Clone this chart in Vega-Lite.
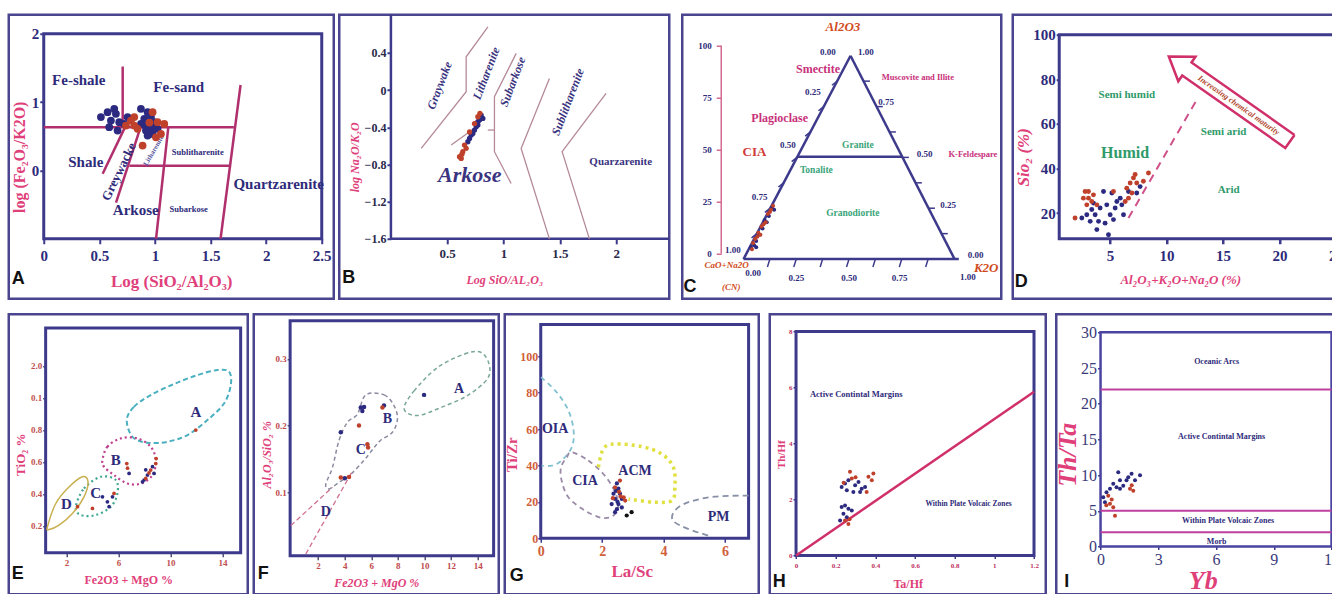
{
"padding": {"left": 6.75, "top": 11.75, "right": 0, "bottom": 0},
"background": "white",
"spacing": 11.5,
"config": {
  "view": {"stroke": null},
  "axis": {"grid": false, "domain": false, "labelFont": "Liberation Serif", "titleFont": "Liberation Serif", "labelFontWeight": "bold", "titleFontWeight": "bold", "labelFlush": false, "labelOverlap": false, "tickColor": "#3d3a8c", "tickWidth": 1.5, "tickSize": 4, "labelColor": "#2e2b7a", "titleColor": "#e0407a"},
  "text": {"font": "Liberation Serif"}
},
"vconcat": [
{"spacing": 8.5, "hconcat": [
{"spacing": 1.5, "hconcat": [
{"width": 325, "height": 284, "view": {"stroke": "#4b4590", "strokeWidth": 2.5},
 "layer": [
  {"data": {"values": [{"x": 0, "x2": 2.5, "y": -1, "y2": 2}]},
   "mark": {"type": "rect", "fill": null, "stroke": "#3d3a8c", "strokeWidth": 3},
   "encoding": {
     "x": {"field": "x", "type": "quantitative", "scale": {"domain": [-0.3147, 2.608], "nice": false, "zero": false}, "axis": {"offset": -60, "values": [0, 0.5, 1, 1.5, 2, 2.5], "format": "~r", "title": "Log (SiO₂/Al₂O₃)", "labelFontSize": 15, "tickSize": 5, "tickWidth": 2, "labelPadding": 5, "titleFontSize": 17, "titlePadding": 10}},
     "x2": {"field": "x2"},
     "y": {"field": "y", "type": "quantitative", "scale": {"domain": [-1.878, 2.278], "nice": false, "zero": false}, "axis": {"offset": -35, "values": [0, 1, 2], "format": "~r", "title": "log (Fe₂O₃/K2O)", "labelFontSize": 15, "tickSize": 4, "tickWidth": 2, "labelPadding": 1, "titleFontSize": 16, "titlePadding": 4}},
     "y2": {"field": "y2"}}},
  {"data": {"values": [{"x": 0.71, "y": 1.52, "x2": 0.71, "y2": 0.63}, {"x": 0, "y": 0.63, "x2": 1.71, "y2": 0.63}, {"x": 1.77, "y": 1.25, "x2": 1.59, "y2": -1}, {"x": 1.12, "y": 0.63, "x2": 1.01, "y2": -1}, {"x": 0.77, "y": 0.07, "x2": 1.67, "y2": 0.07}, {"x": 0.53, "y": -0.05, "x2": 0.73, "y2": 0.63}, {"x": 0.65, "y": -0.47, "x2": 0.87, "y2": 0.63}]},
   "mark": {"type": "rule", "color": "#b0306e", "strokeWidth": 2.5},
   "encoding": {"x": {"field": "x", "type": "quantitative"}, "y": {"field": "y", "type": "quantitative"}, "x2": {"field": "x2"}, "y2": {"field": "y2"}}},
  {"data": {"values": [{"x": 0.315, "y": 1.327, "t": "Fe-shale"}, {"x": 1.214, "y": 1.224, "t": "Fe-sand"}, {"x": 0.378, "y": 0.127, "t": "Shale"}, {"x": 0.827, "y": -0.576, "t": "Arkose"}, {"x": 2.113, "y": -0.195, "t": "Quartzarenite"}]},
   "mark": {"type": "text", "fontWeight": "bold", "fontSize": 15, "color": "#2e2b7a"},
   "encoding": {"x": {"field": "x", "type": "quantitative"}, "y": {"field": "y", "type": "quantitative"}, "text": {"field": "t"}}},
  {"data": {"values": [{"x": 1.304, "y": -0.561, "t": "Subarkose"}, {"x": 1.385, "y": 0.273, "t": "Sublitharenite"}]},
   "mark": {"type": "text", "fontWeight": "bold", "fontSize": 8.5, "color": "#2e2b7a"},
   "encoding": {"x": {"field": "x", "type": "quantitative"}, "y": {"field": "y", "type": "quantitative"}, "text": {"field": "t"}}},
  {"data": {"values": [{"x": 0.677, "y": -0.02, "t": "Greywacke"}]},
   "mark": {"type": "text", "fontWeight": "bold", "fontSize": 13, "angle": 296, "color": "#2e2b7a"},
   "encoding": {"x": {"field": "x", "type": "quantitative"}, "y": {"field": "y", "type": "quantitative"}, "text": {"field": "t"}}},
  {"data": {"values": [{"x": 0.989, "y": 0.29, "t": "Litharenite"}]},
   "mark": {"type": "text", "fontWeight": "bold", "fontSize": 7, "angle": 300, "color": "#5a5aa0"},
   "encoding": {"x": {"field": "x", "type": "quantitative"}, "y": {"field": "y", "type": "quantitative"}, "text": {"field": "t"}}},
  {"data": {"values": [
    {"x": 0.514, "y": 0.78, "s": "n"}, {"x": 0.574, "y": 0.853, "s": "n"}, {"x": 0.634, "y": 0.902, "s": "n"}, {"x": 0.649, "y": 0.828, "s": "n"}, {"x": 0.589, "y": 0.632, "s": "n"}, {"x": 0.664, "y": 0.583, "s": "n"}, {"x": 0.679, "y": 0.706, "s": "n"}, {"x": 0.604, "y": 0.73, "s": "n"}, {"x": 0.754, "y": 0.78, "s": "n"}, {"x": 0.724, "y": 0.681, "s": "n"}, {"x": 0.874, "y": 0.902, "s": "n"}, {"x": 0.934, "y": 0.853, "s": "n"}, {"x": 0.904, "y": 0.755, "s": "n"}, {"x": 0.964, "y": 0.78, "s": "n"}, {"x": 0.949, "y": 0.657, "s": "n"}, {"x": 0.994, "y": 0.706, "s": "n"}, {"x": 0.919, "y": 0.583, "s": "n"}, {"x": 0.874, "y": 0.681, "s": "n"}, {"x": 1.024, "y": 0.608, "s": "n"}, {"x": 0.979, "y": 0.534, "s": "n"}, {"x": 0.934, "y": 0.51, "s": "n"}, {"x": 0.96, "y": 0.62, "s": "n"}, {"x": 0.91, "y": 0.66, "s": "n"}, {"x": 1.0, "y": 0.64, "s": "n"},
    {"x": 0.784, "y": 0.73, "s": "r"}, {"x": 0.739, "y": 0.657, "s": "r"}, {"x": 0.814, "y": 0.78, "s": "r"}, {"x": 0.844, "y": 0.608, "s": "r"}, {"x": 1.024, "y": 0.706, "s": "r"}, {"x": 1.084, "y": 0.681, "s": "r"}, {"x": 1.054, "y": 0.534, "s": "r"}, {"x": 0.889, "y": 0.363, "s": "r"}, {"x": 1.009, "y": 0.485, "s": "r"}, {"x": 0.814, "y": 0.657, "s": "r"}, {"x": 0.979, "y": 0.853, "s": "r"}, {"x": 0.95, "y": 0.7, "s": "r"}]},
   "mark": {"type": "circle", "size": 60, "opacity": 1},
   "encoding": {"x": {"field": "x", "type": "quantitative"}, "y": {"field": "y", "type": "quantitative"}, "color": {"field": "s", "type": "nominal", "scale": {"domain": ["n", "r", "k"], "range": ["#2c2a80", "#c0412b", "#111111"]}, "legend": null}}},
  {"data": {"values": [{"x": -0.288, "y": -1.585, "t": "A"}]},
   "mark": {"type": "text", "font": "Liberation Sans", "fontWeight": "bold", "fontSize": 18, "color": "#111111", "align": "left"},
   "encoding": {"x": {"field": "x", "type": "quantitative"}, "y": {"field": "y", "type": "quantitative"}, "text": {"field": "t"}}}
 ]},
{"width": 330, "height": 284, "view": {"stroke": "#4b4590", "strokeWidth": 2.5},
 "layer": [
  {"data": {"values": [{"x": 0, "y": -1.6, "x2": 2.4708, "y2": -1.6}, {"x": 0, "y": -1.6, "x2": 0, "y2": 0.8097}]},
   "mark": {"type": "rule", "color": "#3d3a8c", "strokeWidth": 2.5},
   "encoding": {
     "x": {"field": "x", "type": "quantitative", "scale": {"domain": [-0.4587, 2.4708], "nice": false, "zero": false}, "axis": {"offset": -59.9, "values": [0.5, 1, 1.5, 2], "format": "~r", "tickSize": 5, "tickWidth": 2, "labelFontSize": 13, "labelPadding": 4, "labelColor": "#2a2a4a", "title": "Log SiO/AL₂O₃", "titleFontStyle": "italic", "titleFontSize": 12, "titlePadding": 14}},
     "x2": {"field": "x2"},
     "y": {"field": "y", "type": "quantitative", "scale": {"domain": [-2.244, 0.8097], "nice": false, "zero": false}, "axis": {"offset": -51.7, "values": [-1.6, -1.2, -0.8, -0.4, 0, 0.4], "format": "~r", "tickSize": 4, "tickWidth": 2, "labelFontSize": 12, "labelPadding": 1, "labelColor": "#2a2a4a", "title": "log Na₂O/K₂O", "titleFontStyle": "italic", "titleFontSize": 12, "titlePadding": 3}},
     "y2": {"field": "y2"}}},
  {"data": {"values": [{"g": 1, "o": 0, "x": 0.269, "y": -0.628}, {"g": 1, "o": 1, "x": 0.668, "y": -0.018}, {"g": 1, "o": 2, "x": 0.668, "y": 0.358}, {"g": 1, "o": 3, "x": 0.861, "y": 0.68},
    {"g": 2, "o": 0, "x": 1.112, "y": 0.394}, {"g": 2, "o": 1, "x": 0.919, "y": -0.072}, {"g": 2, "o": 2, "x": 0.919, "y": -0.663}, {"g": 2, "o": 3, "x": 1.067, "y": -1.004},
    {"g": 3, "o": 0, "x": 0.86, "y": -0.43}, {"g": 3, "o": 1, "x": 0.92, "y": -0.43},
    {"g": 4, "o": 0, "x": 0.535, "y": -0.59}, {"g": 4, "o": 1, "x": 0.742, "y": -0.41},
    {"g": 5, "o": 0, "x": 1.407, "y": 0.125}, {"g": 5, "o": 1, "x": 1.156, "y": -0.628}, {"g": 5, "o": 2, "x": 1.407, "y": -1.6},
    {"g": 6, "o": 0, "x": 1.91, "y": -0.036}, {"g": 6, "o": 1, "x": 1.52, "y": -0.663}, {"g": 6, "o": 2, "x": 1.762, "y": -1.6}]},
   "mark": {"type": "line", "color": "#b58a98", "strokeWidth": 1.3},
   "encoding": {"x": {"field": "x", "type": "quantitative"}, "y": {"field": "y", "type": "quantitative"}, "detail": {"field": "g", "type": "nominal"}, "order": {"field": "o", "type": "quantitative"}}},
  {"data": {"values": [{"x": 0.43, "y": 0.05, "t": "Graywake"}, {"x": 0.846, "y": 0.18, "t": "Litharenite"}, {"x": 1.08, "y": 0.09, "t": "Subarkose"}, {"x": 1.57, "y": -0.126, "t": "Sublitharenite"}]},
   "mark": {"type": "text", "fontWeight": "bold", "fontStyle": "italic", "fontSize": 12, "angle": 291, "color": "#3a3480"},
   "encoding": {"x": {"field": "x", "type": "quantitative"}, "y": {"field": "y", "type": "quantitative"}, "text": {"field": "t"}}},
  {"data": {"values": [{"x": 2.04, "y": -0.77, "t": "Quarzarenite"}]},
   "mark": {"type": "text", "fontWeight": "bold", "fontSize": 11, "color": "#3a3480"},
   "encoding": {"x": {"field": "x", "type": "quantitative"}, "y": {"field": "y", "type": "quantitative"}, "text": {"field": "t"}}},
  {"data": {"values": [{"x": 0.7, "y": -0.91, "t": "Arkose"}]},
   "mark": {"type": "text", "fontWeight": "bold", "fontStyle": "italic", "fontSize": 22, "color": "#3a3480"},
   "encoding": {"x": {"field": "x", "type": "quantitative"}, "y": {"field": "y", "type": "quantitative"}, "text": {"field": "t"}}},
  {"data": {"values": [
    {"x": 0.801, "y": -0.269, "s": "n"}, {"x": 0.786, "y": -0.323, "s": "n"}, {"x": 0.772, "y": -0.376, "s": "n"}, {"x": 0.757, "y": -0.394, "s": "n"}, {"x": 0.742, "y": -0.43, "s": "n"}, {"x": 0.713, "y": -0.484, "s": "n"}, {"x": 0.683, "y": -0.556, "s": "n"}, {"x": 0.816, "y": -0.305, "s": "n"}, {"x": 0.772, "y": -0.34, "s": "n"}, {"x": 0.727, "y": -0.466, "s": "n"}, {"x": 0.698, "y": -0.52, "s": "n"},
    {"x": 0.609, "y": -0.717, "s": "r"}, {"x": 0.624, "y": -0.735, "s": "r"}, {"x": 0.638, "y": -0.663, "s": "r"}, {"x": 0.653, "y": -0.592, "s": "r"}, {"x": 0.668, "y": -0.627, "s": "r"}, {"x": 0.742, "y": -0.36, "s": "r"}, {"x": 0.772, "y": -0.287, "s": "r"}, {"x": 0.698, "y": -0.45, "s": "r"}, {"x": 0.79, "y": -0.25, "s": "r"}, {"x": 0.63, "y": -0.69, "s": "r"}]},
   "mark": {"type": "circle", "size": 28, "opacity": 1},
   "encoding": {"x": {"field": "x", "type": "quantitative"}, "y": {"field": "y", "type": "quantitative"}, "color": {"field": "s", "type": "nominal", "scale": {"domain": ["n", "r", "k"], "range": ["#2c2a80", "#c0412b", "#111111"]}, "legend": null}}},
  {"data": {"values": [{"x": -0.432, "y": -2.016, "t": "B"}]},
   "mark": {"type": "text", "font": "Liberation Sans", "fontWeight": "bold", "fontSize": 18, "color": "#111111", "align": "left"},
   "encoding": {"x": {"field": "x", "type": "quantitative"}, "y": {"field": "y", "type": "quantitative"}, "text": {"field": "t"}}}
 ]}
]},
{"spacing": 7.5, "hconcat": [
{"width": 319, "height": 284, "view": {"stroke": "#4b4590", "strokeWidth": 2.5},
 "layer": [
  {"data": {"values": [{"x": -0.1057, "y": 0, "x2": -0.1057, "y2": 100}]},
   "mark": {"type": "rule", "color": "#d46a90", "strokeWidth": 1.5},
   "encoding": {
     "x": {"field": "x", "type": "quantitative", "scale": {"domain": [-0.2905, 1.2213], "nice": false, "zero": false}, "axis": null},
     "x2": {"field": "x2"},
     "y": {"field": "y", "type": "quantitative", "scale": {"domain": [-21.81, 114.93], "nice": false, "zero": false}, "axis": {"offset": -39, "values": [0, 12.5, 25, 37.5, 50, 62.5, 75, 87.5, 100], "labelExpr": "datum.value % 25 == 0 ? format(datum.value, 'd') : ''", "tickColor": "#d46a90", "tickSize": 5, "tickWidth": 1.5, "labelFontSize": 9, "labelPadding": 5, "title": null}},
     "y2": {"field": "y2"}}},
  {"data": {"values": [{"x": 0, "y": -2.7, "x2": 0.507, "y2": 95.2}, {"x": 0.507, "y": 95.2, "x2": 1.0, "y2": -2.7}, {"x": 0, "y": -2.7, "x2": 1.02, "y2": -2.7}, {"x": 0.255, "y": 46.6, "x2": 0.752, "y2": 46.6}]},
   "mark": {"type": "rule", "color": "#3d3a8c", "strokeWidth": 2.5},
   "encoding": {"x": {"field": "x", "type": "quantitative"}, "y": {"field": "y", "type": "quantitative"}, "x2": {"field": "x2"}, "y2": {"field": "y2"}}},
  {"data": {"values": [
    {"x": 0.125, "y": -2.7, "x2": 0.113, "y2": -6.5}, {"x": 0.25, "y": -2.7, "x2": 0.238, "y2": -6.5}, {"x": 0.375, "y": -2.7, "x2": 0.363, "y2": -6.5}, {"x": 0.5, "y": -2.7, "x2": 0.488, "y2": -6.5}, {"x": 0.625, "y": -2.7, "x2": 0.613, "y2": -6.5}, {"x": 0.75, "y": -2.7, "x2": 0.738, "y2": -6.5}, {"x": 0.875, "y": -2.7, "x2": 0.863, "y2": -6.5},
    {"x": 0.0634, "y": 9.54, "x2": 0.038, "y2": 7.5}, {"x": 0.1268, "y": 21.78, "x2": 0.101, "y2": 19.8}, {"x": 0.19, "y": 34.0, "x2": 0.165, "y2": 32.0}, {"x": 0.2535, "y": 46.25, "x2": 0.228, "y2": 44.2}, {"x": 0.317, "y": 58.5, "x2": 0.292, "y2": 56.5}, {"x": 0.38, "y": 70.7, "x2": 0.355, "y2": 68.7}, {"x": 0.444, "y": 82.96, "x2": 0.419, "y2": 81.0},
    {"x": 0.938, "y": 9.54, "x2": 0.968, "y2": 9.54}, {"x": 0.877, "y": 21.78, "x2": 0.907, "y2": 21.78}, {"x": 0.815, "y": 34.0, "x2": 0.845, "y2": 34.0}, {"x": 0.7535, "y": 46.25, "x2": 0.7835, "y2": 46.25}, {"x": 0.692, "y": 58.5, "x2": 0.722, "y2": 58.5}, {"x": 0.63, "y": 70.7, "x2": 0.66, "y2": 70.7}, {"x": 0.569, "y": 82.96, "x2": 0.599, "y2": 82.96}]},
   "mark": {"type": "rule", "color": "#3d3a8c", "strokeWidth": 1.5},
   "encoding": {"x": {"field": "x", "type": "quantitative"}, "y": {"field": "y", "type": "quantitative"}, "x2": {"field": "x2"}, "y2": {"field": "y2"}}},
  {"data": {"values": [{"x": 0.353, "y": 89, "t": "Smectite"}, {"x": 0.171, "y": 65, "t": "Plagioclase"}]},
   "mark": {"type": "text", "fontWeight": "bold", "fontSize": 12, "color": "#c8307a"},
   "encoding": {"x": {"field": "x", "type": "quantitative"}, "y": {"field": "y", "type": "quantitative"}, "text": {"field": "t"}}},
  {"data": {"values": [{"x": 0.826, "y": 85, "t": "Muscovite and Illite"}, {"x": 1.087, "y": 48.1, "t": "K-Feldespare"}]},
   "mark": {"type": "text", "fontWeight": "bold", "fontSize": 8.5, "color": "#c8307a"},
   "encoding": {"x": {"field": "x", "type": "quantitative"}, "y": {"field": "y", "type": "quantitative"}, "text": {"field": "t"}}},
  {"data": {"values": [{"x": 0.052, "y": 49, "t": "CIA"}]},
   "mark": {"type": "text", "fontWeight": "bold", "fontSize": 13, "color": "#d03a3a"},
   "encoding": {"x": {"field": "x", "type": "quantitative"}, "y": {"field": "y", "type": "quantitative"}, "text": {"field": "t"}}},
  {"data": {"values": [{"x": 0.471, "y": 109, "t": "Al2O3"}, {"x": 1.15, "y": -7.2, "t": "K2O"}]},
   "mark": {"type": "text", "fontWeight": "bold", "fontStyle": "italic", "fontSize": 13, "color": "#d04a20"},
   "encoding": {"x": {"field": "x", "type": "quantitative"}, "y": {"field": "y", "type": "quantitative"}, "text": {"field": "t"}}},
  {"data": {"values": [{"x": -0.08, "y": -5.6, "t": "CaO+Na2O"}, {"x": -0.058, "y": -16, "t": "(CN)"}]},
   "mark": {"type": "text", "fontWeight": "bold", "fontStyle": "italic", "fontSize": 9, "color": "#d04a20"},
   "encoding": {"x": {"field": "x", "type": "quantitative"}, "y": {"field": "y", "type": "quantitative"}, "text": {"field": "t"}}},
  {"data": {"values": [{"x": 0.542, "y": 52.2, "t": "Granite"}, {"x": 0.345, "y": 40, "t": "Tonalite"}, {"x": 0.518, "y": 19.7, "t": "Granodiorite"}]},
   "mark": {"type": "text", "fontWeight": "bold", "fontSize": 9.5, "color": "#3aa57a"},
   "encoding": {"x": {"field": "x", "type": "quantitative"}, "y": {"field": "y", "type": "quantitative"}, "text": {"field": "t"}}},
  {"data": {"values": [{"x": 0.4, "y": 97, "t": "0.00"}, {"x": 0.58, "y": 97, "t": "1.00"}, {"x": 0.329, "y": 77.9, "t": "0.25"}, {"x": 0.676, "y": 73, "t": "0.75"}, {"x": 0.21, "y": 52.2, "t": "0.50"}, {"x": 0.858, "y": 48.1, "t": "0.50"}, {"x": 0.076, "y": 27.3, "t": "0.75"}, {"x": 0.969, "y": 23.3, "t": "0.25"}, {"x": -0.05, "y": 1.6, "t": "1.00"}, {"x": 1.1, "y": -0.8, "t": "0.00"}, {"x": 1.063, "y": -11.2, "t": "1.00"}, {"x": 0.045, "y": -9.5, "t": "0.00"}, {"x": 0.25, "y": -12, "t": "0.25"}, {"x": 0.5, "y": -12, "t": "0.50"}, {"x": 0.74, "y": -12, "t": "0.75"}]},
   "mark": {"type": "text", "fontWeight": "bold", "fontSize": 9, "color": "#2e2b7a"},
   "encoding": {"x": {"field": "x", "type": "quantitative"}, "y": {"field": "y", "type": "quantitative"}, "text": {"field": "t"}}},
  {"data": {"values": [
    {"x": 0.035, "y": 3, "s": "n"}, {"x": 0.05, "y": 4, "s": "n"}, {"x": 0.06, "y": 6, "s": "n"}, {"x": 0.075, "y": 9, "s": "n"}, {"x": 0.09, "y": 12, "s": "n"}, {"x": 0.1, "y": 16, "s": "n"}, {"x": 0.12, "y": 18, "s": "n"}, {"x": 0.135, "y": 22, "s": "n"}, {"x": 0.06, "y": 3, "s": "n"}, {"x": 0.11, "y": 15, "s": "n"}, {"x": 0.145, "y": 21, "s": "n"},
    {"x": 0.045, "y": 5, "s": "r"}, {"x": 0.055, "y": 7, "s": "r"}, {"x": 0.065, "y": 8, "s": "r"}, {"x": 0.07, "y": 10, "s": "r"}, {"x": 0.085, "y": 13, "s": "r"}, {"x": 0.095, "y": 14, "s": "r"}, {"x": 0.105, "y": 15, "s": "r"}, {"x": 0.115, "y": 19, "s": "r"}, {"x": 0.125, "y": 20, "s": "r"}, {"x": 0.13, "y": 21, "s": "r"}, {"x": 0.14, "y": 23, "s": "r"}, {"x": 0.04, "y": 2, "s": "r"}, {"x": 0.08, "y": 9, "s": "r"}]},
   "mark": {"type": "circle", "size": 16, "opacity": 1},
   "encoding": {"x": {"field": "x", "type": "quantitative"}, "y": {"field": "y", "type": "quantitative"}, "color": {"field": "s", "type": "nominal", "scale": {"domain": ["n", "r", "k"], "range": ["#2c2a80", "#c0412b", "#111111"]}, "legend": null}}},
  {"data": {"values": [{"x": -0.285, "y": -16.0, "t": "C"}]},
   "mark": {"type": "text", "font": "Liberation Sans", "fontWeight": "bold", "fontSize": 18, "color": "#111111", "align": "left"},
   "encoding": {"x": {"field": "x", "type": "quantitative"}, "y": {"field": "y", "type": "quantitative"}, "text": {"field": "t"}}}
 ]},
{"width": 335, "height": 284, "view": {"stroke": "#4b4590", "strokeWidth": 2.5},
 "layer": [
  {"data": {"values": [{"x": 0.5, "x2": 26.04, "y": 8.5, "y2": 100}]},
   "mark": {"type": "rect", "fill": null, "stroke": "#3d3a8c", "strokeWidth": 3},
   "encoding": {
     "x": {"field": "x", "type": "quantitative", "scale": {"domain": [-3.614, 26.04], "nice": false, "zero": false}, "axis": {"offset": -60, "values": [5, 10, 15, 20, 25], "format": "~r", "labelFontSize": 15, "tickSize": 5, "tickWidth": 2.5, "labelPadding": 5, "title": "Al₂O₃+K₂O+Na₂O (%)", "titleFontStyle": "italic", "titleFontSize": 13, "titlePadding": 10}},
     "x2": {"field": "x2"},
     "y": {"field": "y", "type": "quantitative", "scale": {"domain": [-18.4, 108.95], "nice": false, "zero": false}, "axis": {"offset": -46.4, "values": [20, 40, 60, 80, 100], "format": "~r", "labelFontSize": 15, "tickSize": 3, "tickWidth": 2, "labelPadding": 1, "title": "Sio₂ (%)", "titleFontStyle": "italic", "titleFontSize": 17, "titlePadding": 0}},
     "y2": {"field": "y2"}}},
  {"data": {"values": [{"x": 6.63, "y": 17.8, "x2": 12.68, "y2": 70.9}]},
   "mark": {"type": "rule", "color": "#d0508a", "strokeWidth": 2, "strokeDash": [8, 6]},
   "encoding": {"x": {"field": "x", "type": "quantitative"}, "y": {"field": "y", "type": "quantitative"}, "x2": {"field": "x2"}, "y2": {"field": "y2"}}},
  {"data": {"values": [{"o": 0, "x": 21.33, "y": 55.07}, {"o": 1, "x": 12.21, "y": 87.53}, {"o": 2, "x": 12.56, "y": 90.13}, {"o": 3, "x": 10.2, "y": 90.27}, {"o": 4, "x": 11.04, "y": 79.1}, {"o": 5, "x": 11.39, "y": 81.7}, {"o": 6, "x": 20.51, "y": 49.24}, {"o": 7, "x": 21.33, "y": 55.07}]},
   "mark": {"type": "line", "color": "#d0306a", "strokeWidth": 2.5},
   "encoding": {"x": {"field": "x", "type": "quantitative"}, "y": {"field": "y", "type": "quantitative"}, "order": {"field": "o", "type": "quantitative"}}},
  {"data": {"values": [{"x": 16.36, "y": 68.2, "t": "Increasing chemical maturity"}]},
   "mark": {"type": "text", "fontWeight": "bold", "fontStyle": "italic", "fontSize": 8, "angle": 35, "color": "#b0452a"},
   "encoding": {"x": {"field": "x", "type": "quantitative"}, "y": {"field": "y", "type": "quantitative"}, "text": {"field": "t"}}},
  {"data": {"values": [{"x": 6.48, "y": 72.9, "t": "Semi humid"}, {"x": 15.05, "y": 56.5, "t": "Semi arid"}, {"x": 15.5, "y": 30.3, "t": "Arid"}]},
   "mark": {"type": "text", "fontWeight": "bold", "fontSize": 11, "color": "#2f9a6a"},
   "encoding": {"x": {"field": "x", "type": "quantitative"}, "y": {"field": "y", "type": "quantitative"}, "text": {"field": "t"}}},
  {"data": {"values": [{"x": 6.33, "y": 46.8, "t": "Humid"}]},
   "mark": {"type": "text", "fontWeight": "bold", "fontSize": 16, "color": "#2f9a6a"},
   "encoding": {"x": {"field": "x", "type": "quantitative"}, "y": {"field": "y", "type": "quantitative"}, "text": {"field": "t"}}},
  {"data": {"values": [
    {"x": 2.5, "y": 17.8, "s": "n"}, {"x": 2.94, "y": 19.3, "s": "n"}, {"x": 3.38, "y": 21.6, "s": "n"}, {"x": 3.68, "y": 19.3, "s": "n"}, {"x": 3.98, "y": 16.3, "s": "n"}, {"x": 3.83, "y": 12.6, "s": "n"}, {"x": 4.56, "y": 15.5, "s": "n"}, {"x": 4.86, "y": 10.3, "s": "n"}, {"x": 5.01, "y": 19.3, "s": "n"}, {"x": 4.42, "y": 29.7, "s": "n"}, {"x": 5.16, "y": 29, "s": "n"}, {"x": 4.71, "y": 23.7, "s": "n"}, {"x": 5.3, "y": 17.1, "s": "n"}, {"x": 5.45, "y": 22.3, "s": "n"}, {"x": 5.6, "y": 25.2, "s": "n"}, {"x": 6.04, "y": 23.7, "s": "n"}, {"x": 6.19, "y": 19.3, "s": "n"}, {"x": 5.9, "y": 26.7, "s": "n"}, {"x": 6.63, "y": 29.7, "s": "n"}, {"x": 7.36, "y": 29, "s": "n"}, {"x": 7.66, "y": 31.9, "s": "n"}, {"x": 4.12, "y": 22.3, "s": "n"}, {"x": 3.53, "y": 24.5, "s": "n"}, {"x": 3.24, "y": 16.3, "s": "n"},
    {"x": 1.9, "y": 17.8, "s": "r"}, {"x": 2.79, "y": 29.7, "s": "r"}, {"x": 3.09, "y": 26.7, "s": "r"}, {"x": 2.94, "y": 23.7, "s": "r"}, {"x": 3.53, "y": 28.2, "s": "r"}, {"x": 3.38, "y": 25.2, "s": "r"}, {"x": 3.09, "y": 29.7, "s": "r"}, {"x": 2.64, "y": 26.7, "s": "r"}, {"x": 3.83, "y": 23.7, "s": "r"}, {"x": 6.48, "y": 31.2, "s": "r"}, {"x": 6.78, "y": 33.5, "s": "r"}, {"x": 7.07, "y": 35.8, "s": "r"}, {"x": 7.36, "y": 33.5, "s": "r"}, {"x": 6.93, "y": 29.0, "s": "r"}, {"x": 6.63, "y": 26.7, "s": "r"}, {"x": 8.4, "y": 38, "s": "r"}, {"x": 7.95, "y": 34.3, "s": "r"}, {"x": 6.34, "y": 25.2, "s": "r"}, {"x": 7.22, "y": 37.3, "s": "r"}, {"x": 5.3, "y": 29.7, "s": "r"}]},
   "mark": {"type": "circle", "size": 24, "opacity": 1},
   "encoding": {"x": {"field": "x", "type": "quantitative"}, "y": {"field": "y", "type": "quantitative"}, "color": {"field": "s", "type": "nominal", "scale": {"domain": ["n", "r", "k"], "range": ["#2c2a80", "#c0412b", "#111111"]}, "legend": null}}},
  {"data": {"values": [{"x": -3.44, "y": -10.8, "t": "D"}]},
   "mark": {"type": "text", "font": "Liberation Sans", "fontWeight": "bold", "fontSize": 18, "color": "#111111", "align": "left"},
   "encoding": {"x": {"field": "x", "type": "quantitative"}, "y": {"field": "y", "type": "quantitative"}, "text": {"field": "t"}}}
 ]}
]}
]},
{"spacing": 7, "hconcat": [
{"spacing": 2, "hconcat": [
{"width": 239, "height": 280, "view": {"stroke": "#4b4590", "strokeWidth": 2.5},
 "layer": [
  {"data": {"values": [{"x": 0.4, "x2": 15.4, "y": 0.031, "y2": 1.436}]},
   "mark": {"type": "rect", "fill": null, "stroke": "#3d3a8c", "strokeWidth": 3},
   "encoding": {
     "x": {"field": "x", "type": "quantitative", "scale": {"domain": [-2.438, 15.946], "nice": false, "zero": false}, "axis": {"offset": -41.5, "values": [2, 4, 6, 8, 10, 12, 14], "format": "~r", "labelFontSize": 9, "labelColor": "#c0504d", "tickSize": 4, "tickColor": "#555577", "labelPadding": 2, "title": "Fe2O3 + MgO %", "titleFontSize": 12, "titlePadding": 7}},
     "x2": {"field": "x2"},
     "y": {"field": "y", "type": "quantitative", "scale": {"domain": [-0.228, 1.5219], "nice": false, "zero": false}, "axis": {"offset": -36.9, "values": [0.2, 0.4, 0.6, 0.8, 1.0, 1.2], "labelExpr": "datum.value == 1 ? '0.1' : datum.value == 1.2 ? '2.0' : format(datum.value, '.1f')", "labelFontSize": 9, "labelColor": "#c0504d", "tickSize": 3, "tickColor": "#555577", "labelPadding": 1, "title": "TiO₂ %", "titleFontSize": 13, "titlePadding": 3}},
     "y2": {"field": "y2"}}},
  {"data": {"values": [{"o": 0, "x": 6.64, "y": 0.861}, {"o": 1, "x": 7.2, "y": 0.944}, {"o": 2, "x": 8.48, "y": 1.017}, {"o": 3, "x": 10.28, "y": 1.086}, {"o": 4, "x": 12.08, "y": 1.142}, {"o": 5, "x": 13.62, "y": 1.173}, {"o": 6, "x": 14.51, "y": 1.163}, {"o": 7, "x": 14.64, "y": 1.079}, {"o": 8, "x": 14.12, "y": 0.964}, {"o": 9, "x": 12.85, "y": 0.861}, {"o": 10, "x": 11.31, "y": 0.767}, {"o": 11, "x": 9.77, "y": 0.725}, {"o": 12, "x": 8.23, "y": 0.719}, {"o": 13, "x": 7.08, "y": 0.756}]},
   "mark": {"type": "line", "color": "#4ab0c0", "strokeWidth": 2, "strokeDash": [5, 3], "interpolate": "cardinal-closed"},
   "encoding": {"x": {"field": "x", "type": "quantitative"}, "y": {"field": "y", "type": "quantitative"}, "order": {"field": "o", "type": "quantitative"}}},
  {"data": {"values": [{"o": 0, "x": 4.77, "y": 0.611}, {"o": 1, "x": 5.15, "y": 0.694}, {"o": 2, "x": 6.18, "y": 0.746}, {"o": 3, "x": 7.46, "y": 0.746}, {"o": 4, "x": 8.48, "y": 0.694}, {"o": 5, "x": 8.87, "y": 0.611}, {"o": 6, "x": 8.62, "y": 0.517}, {"o": 7, "x": 7.72, "y": 0.464}, {"o": 8, "x": 6.69, "y": 0.464}, {"o": 9, "x": 5.66, "y": 0.517}, {"o": 10, "x": 4.89, "y": 0.569}]},
   "mark": {"type": "line", "color": "#c04090", "strokeWidth": 2.2, "strokeDash": [2, 3], "interpolate": "cardinal-closed"},
   "encoding": {"x": {"field": "x", "type": "quantitative"}, "y": {"field": "y", "type": "quantitative"}, "order": {"field": "o", "type": "quantitative"}}},
  {"data": {"values": [{"o": 0, "x": 2.72, "y": 0.319}, {"o": 1, "x": 3.35, "y": 0.433}, {"o": 2, "x": 4.64, "y": 0.506}, {"o": 3, "x": 5.79, "y": 0.486}, {"o": 4, "x": 5.92, "y": 0.402}, {"o": 5, "x": 5.41, "y": 0.319}, {"o": 6, "x": 4.25, "y": 0.267}, {"o": 7, "x": 3.1, "y": 0.267}]},
   "mark": {"type": "line", "color": "#40a890", "strokeWidth": 2.2, "strokeDash": [2, 3], "interpolate": "cardinal-closed"},
   "encoding": {"x": {"field": "x", "type": "quantitative"}, "y": {"field": "y", "type": "quantitative"}, "order": {"field": "o", "type": "quantitative"}}},
  {"data": {"values": [{"o": 0, "x": 0.54, "y": 0.194}, {"o": 1, "x": 1.18, "y": 0.339}, {"o": 2, "x": 2.08, "y": 0.433}, {"o": 3, "x": 3.23, "y": 0.506}, {"o": 4, "x": 3.66, "y": 0.475}, {"o": 5, "x": 3.35, "y": 0.381}, {"o": 6, "x": 2.46, "y": 0.277}, {"o": 7, "x": 1.43, "y": 0.204}, {"o": 8, "x": 0.66, "y": 0.177}]},
   "mark": {"type": "line", "color": "#c8b050", "strokeWidth": 1.5, "interpolate": "cardinal-closed"},
   "encoding": {"x": {"field": "x", "type": "quantitative"}, "y": {"field": "y", "type": "quantitative"}, "order": {"field": "o", "type": "quantitative"}}},
  {"data": {"values": [{"x": 11.95, "y": 0.91, "t": "A"}, {"x": 5.79, "y": 0.611, "t": "B"}, {"x": 4.25, "y": 0.402, "t": "C"}, {"x": 2.0, "y": 0.339, "t": "D"}]},
   "mark": {"type": "text", "fontWeight": "bold", "fontSize": 15, "color": "#2e2b7a"},
   "encoding": {"x": {"field": "x", "type": "quantitative"}, "y": {"field": "y", "type": "quantitative"}, "text": {"field": "t"}}},
  {"data": {"values": [
    {"x": 6.82, "y": 0.527, "s": "n"}, {"x": 7.97, "y": 0.486, "s": "n"}, {"x": 8.23, "y": 0.517, "s": "n"}, {"x": 8.62, "y": 0.569, "s": "n"}, {"x": 8.74, "y": 0.527, "s": "n"}, {"x": 7.85, "y": 0.475, "s": "n"}, {"x": 4.77, "y": 0.381, "s": "n"}, {"x": 5.15, "y": 0.35, "s": "n"}, {"x": 5.54, "y": 0.381, "s": "n"}, {"x": 5.28, "y": 0.319, "s": "n"}, {"x": 8.1, "y": 0.55, "s": "n"},
    {"x": 6.64, "y": 0.589, "s": "r"}, {"x": 6.7, "y": 0.56, "s": "r"}, {"x": 8.48, "y": 0.548, "s": "r"}, {"x": 8.87, "y": 0.589, "s": "r"}, {"x": 8.1, "y": 0.496, "s": "r"}, {"x": 8.35, "y": 0.53, "s": "r"}, {"x": 11.95, "y": 0.798, "s": "r"}, {"x": 4.0, "y": 0.308, "s": "r"}, {"x": 5.66, "y": 0.402, "s": "r"}, {"x": 2.85, "y": 0.319, "s": "r"}, {"x": 8.9, "y": 0.62, "s": "r"}]},
   "mark": {"type": "circle", "size": 14, "opacity": 1},
   "encoding": {"x": {"field": "x", "type": "quantitative"}, "y": {"field": "y", "type": "quantitative"}, "color": {"field": "s", "type": "nominal", "scale": {"domain": ["n", "r", "k"], "range": ["#2c2a80", "#c0412b", "#111111"]}, "legend": null}}},
  {"data": {"values": [{"x": -2.21, "y": -0.101, "t": "E"}]},
   "mark": {"type": "text", "font": "Liberation Sans", "fontWeight": "bold", "fontSize": 18, "color": "#111111", "align": "left"},
   "encoding": {"x": {"field": "x", "type": "quantitative"}, "y": {"field": "y", "type": "quantitative"}, "text": {"field": "t"}}}
 ]},
{"width": 245, "height": 280, "view": {"stroke": "#4b4590", "strokeWidth": 2.5},
 "layer": [
  {"data": {"values": [{"x": -0.1, "x2": 15.2, "y": 0.005, "y2": 0.357}]},
   "mark": {"type": "rect", "fill": null, "stroke": "#3d3a8c", "strokeWidth": 3},
   "encoding": {
     "x": {"field": "x", "type": "quantitative", "scale": {"domain": [-2.835, 15.586], "nice": false, "zero": false}, "axis": {"offset": -38.6, "values": [2, 4, 6, 8, 10, 12, 14], "format": "~r", "labelFontSize": 9, "labelColor": "#c04a4a", "tickSize": 4, "tickColor": "#555577", "labelPadding": 2, "title": "Fe2O3 + MgO %", "titleFontStyle": "italic", "titleFontSize": 12, "titlePadding": 7}},
     "x2": {"field": "x2"},
     "y": {"field": "y", "type": "quantitative", "scale": {"domain": [-0.0529, 0.3669], "nice": false, "zero": false}, "axis": {"offset": -36.4, "values": [0.1, 0.2, 0.3], "format": "~r", "labelFontSize": 9, "labelColor": "#c04a4a", "tickSize": 3, "tickColor": "#555577", "labelPadding": 1, "title": "Al₂O₃/SiO₂ %", "titleFontStyle": "italic", "titleFontSize": 12, "titlePadding": 1}},
     "y2": {"field": "y2"}}},
  {"data": {"values": [{"o": 0, "x": 8.47, "y": 0.225}, {"o": 1, "x": 9.22, "y": 0.252}, {"o": 2, "x": 10.98, "y": 0.287}, {"o": 3, "x": 12.98, "y": 0.307}, {"o": 4, "x": 14.23, "y": 0.31}, {"o": 5, "x": 14.86, "y": 0.292}, {"o": 6, "x": 14.73, "y": 0.27}, {"o": 7, "x": 13.23, "y": 0.245}, {"o": 8, "x": 11.23, "y": 0.227}, {"o": 9, "x": 9.47, "y": 0.215}]},
   "mark": {"type": "line", "color": "#7aa898", "strokeWidth": 1.5, "strokeDash": [4, 3], "interpolate": "cardinal-closed"},
   "encoding": {"x": {"field": "x", "type": "quantitative"}, "y": {"field": "y", "type": "quantitative"}, "order": {"field": "o", "type": "quantitative"}}},
  {"data": {"values": [{"o": 0, "x": 5.59, "y": 0.246}, {"o": 1, "x": 6.96, "y": 0.246}, {"o": 2, "x": 7.71, "y": 0.23}, {"o": 3, "x": 7.97, "y": 0.21}, {"o": 4, "x": 7.59, "y": 0.19}, {"o": 5, "x": 6.71, "y": 0.178}, {"o": 6, "x": 6.21, "y": 0.167}, {"o": 7, "x": 5.46, "y": 0.148}, {"o": 8, "x": 4.46, "y": 0.127}, {"o": 9, "x": 3.58, "y": 0.115}, {"o": 10, "x": 2.83, "y": 0.105}, {"o": 11, "x": 2.58, "y": 0.112}, {"o": 12, "x": 3.08, "y": 0.137}, {"o": 13, "x": 3.58, "y": 0.178}, {"o": 14, "x": 4.21, "y": 0.205}, {"o": 15, "x": 4.96, "y": 0.217}]},
   "mark": {"type": "line", "color": "#8a8aa0", "strokeWidth": 1.5, "strokeDash": [4, 3], "interpolate": "cardinal-closed"},
   "encoding": {"x": {"field": "x", "type": "quantitative"}, "y": {"field": "y", "type": "quantitative"}, "order": {"field": "o", "type": "quantitative"}}},
  {"data": {"values": [{"x": -0.05, "y": 0.05, "x2": 3.08, "y2": 0.1075}, {"x": 1.08, "y": 0.0075, "x2": 4.59, "y2": 0.132}]},
   "mark": {"type": "rule", "color": "#d07090", "strokeWidth": 1.3, "strokeDash": [5, 3]},
   "encoding": {"x": {"field": "x", "type": "quantitative"}, "y": {"field": "y", "type": "quantitative"}, "x2": {"field": "x2"}, "y2": {"field": "y2"}}},
  {"data": {"values": [{"x": 12.6, "y": 0.255, "t": "A"}, {"x": 7.22, "y": 0.21, "t": "B"}, {"x": 5.21, "y": 0.163, "t": "C"}, {"x": 2.58, "y": 0.07, "t": "D"}]},
   "mark": {"type": "text", "fontWeight": "bold", "fontSize": 14, "color": "#2e2b7a"},
   "encoding": {"x": {"field": "x", "type": "quantitative"}, "y": {"field": "y", "type": "quantitative"}, "text": {"field": "t"}}},
  {"data": {"values": [
    {"x": 5.21, "y": 0.227, "s": "n"}, {"x": 5.46, "y": 0.228, "s": "n"}, {"x": 5.33, "y": 0.222, "s": "n"}, {"x": 6.96, "y": 0.23, "s": "n"}, {"x": 3.71, "y": 0.19, "s": "n"}, {"x": 4.01, "y": 0.121, "s": "n"}, {"x": 9.97, "y": 0.246, "s": "n"},
    {"x": 6.84, "y": 0.227, "s": "r"}, {"x": 5.08, "y": 0.2, "s": "r"}, {"x": 5.71, "y": 0.172, "s": "r"}, {"x": 5.76, "y": 0.167, "s": "r"}, {"x": 3.71, "y": 0.122, "s": "r"}, {"x": 4.33, "y": 0.123, "s": "r"}]},
   "mark": {"type": "circle", "size": 20, "opacity": 1},
   "encoding": {"x": {"field": "x", "type": "quantitative"}, "y": {"field": "y", "type": "quantitative"}, "color": {"field": "s", "type": "nominal", "scale": {"domain": ["n", "r", "k"], "range": ["#2c2a80", "#c0412b", "#111111"]}, "legend": null}}},
  {"data": {"values": [{"x": -2.53, "y": -0.0226, "t": "F"}]},
   "mark": {"type": "text", "font": "Liberation Sans", "fontWeight": "bold", "fontSize": 18, "color": "#111111", "align": "left"},
   "encoding": {"x": {"field": "x", "type": "quantitative"}, "y": {"field": "y", "type": "quantitative"}, "text": {"field": "t"}}}
 ]},
{"width": 254, "height": 280, "view": {"stroke": "#4b4590", "strokeWidth": 2.5},
 "layer": [
  {"data": {"values": [{"x": 0, "x2": 6.77, "y": 0, "y2": 117.4}]},
   "mark": {"type": "rect", "fill": null, "stroke": "#3d3a8c", "strokeWidth": 3},
   "encoding": {
     "x": {"field": "x", "type": "quantitative", "scale": {"domain": [-1.1726, 7.101], "nice": false, "zero": false}, "axis": {"offset": -56, "values": [0, 2, 4, 6], "format": "~r", "labelFontSize": 14, "labelColor": "#d0603a", "tickSize": 4, "labelPadding": 2, "title": "La/Sc", "titleFontSize": 17, "titlePadding": 5}},
     "x2": {"field": "x2"},
     "y": {"field": "y", "type": "quantitative", "scale": {"domain": [-30.77, 123.08], "nice": false, "zero": false}, "axis": {"offset": -36, "values": [0, 20, 40, 60, 80, 100], "format": "~r", "labelFontSize": 12, "labelColor": "#d0603a", "tickSize": 3, "labelPadding": 0, "title": "Ti/Zr", "titleFontSize": 15, "titlePadding": 0}},
     "y2": {"field": "y2"}}},
  {"data": {"values": [{"o": 0, "x": 0.01, "y": 88.5}, {"o": 1, "x": 0.52, "y": 80.2}, {"o": 2, "x": 0.9, "y": 70.2}, {"o": 3, "x": 1.07, "y": 59.2}, {"o": 4, "x": 1.01, "y": 50}, {"o": 5, "x": 0.68, "y": 42.7}, {"o": 6, "x": 0.36, "y": 39.9}, {"o": 7, "x": 0.03, "y": 39.9}]},
   "mark": {"type": "line", "color": "#80c0d0", "strokeWidth": 1.8, "strokeDash": [5, 4], "interpolate": "cardinal"},
   "encoding": {"x": {"field": "x", "type": "quantitative"}, "y": {"field": "y", "type": "quantitative"}, "order": {"field": "o", "type": "quantitative"}}},
  {"data": {"values": [{"o": 0, "x": 1.01, "y": 47.3}, {"o": 1, "x": 1.55, "y": 42.7}, {"o": 2, "x": 2.04, "y": 35.3}, {"o": 3, "x": 2.37, "y": 27.1}, {"o": 4, "x": 2.53, "y": 18.8}, {"o": 5, "x": 2.37, "y": 12.5}, {"o": 6, "x": 1.99, "y": 11.2}, {"o": 7, "x": 1.44, "y": 15.2}, {"o": 8, "x": 0.9, "y": 22.5}, {"o": 9, "x": 0.68, "y": 31.7}, {"o": 10, "x": 0.66, "y": 39}, {"o": 11, "x": 0.85, "y": 44.5}]},
   "mark": {"type": "line", "color": "#9a8aa8", "strokeWidth": 1.8, "strokeDash": [5, 4], "interpolate": "cardinal-closed"},
   "encoding": {"x": {"field": "x", "type": "quantitative"}, "y": {"field": "y", "type": "quantitative"}, "order": {"field": "o", "type": "quantitative"}}},
  {"data": {"values": [{"o": 0, "x": 1.88, "y": 39}, {"o": 1, "x": 2.04, "y": 49.1}, {"o": 2, "x": 2.42, "y": 51.8}, {"o": 3, "x": 3.29, "y": 50.4}, {"o": 4, "x": 3.94, "y": 46.3}, {"o": 5, "x": 4.32, "y": 39}, {"o": 6, "x": 4.37, "y": 28}, {"o": 7, "x": 4.27, "y": 20.7}, {"o": 8, "x": 3.72, "y": 19.8}, {"o": 9, "x": 3.07, "y": 21}, {"o": 10, "x": 2.86, "y": 21.6}]},
   "mark": {"type": "line", "color": "#e0e040", "strokeWidth": 3.5, "strokeDash": [3, 4], "interpolate": "cardinal"},
   "encoding": {"x": {"field": "x", "type": "quantitative"}, "y": {"field": "y", "type": "quantitative"}, "order": {"field": "o", "type": "quantitative"}}},
  {"data": {"values": [{"o": 0, "x": 6.77, "y": 23.4}, {"o": 1, "x": 5.68, "y": 22.9}, {"o": 2, "x": 4.81, "y": 19.8}, {"o": 3, "x": 4.37, "y": 15.2}, {"o": 4, "x": 4.31, "y": 9.7}, {"o": 5, "x": 4.81, "y": 5.1}, {"o": 6, "x": 5.57, "y": 0.9}]},
   "mark": {"type": "line", "color": "#8890a8", "strokeWidth": 1.8, "strokeDash": [6, 4], "interpolate": "cardinal"},
   "encoding": {"x": {"field": "x", "type": "quantitative"}, "y": {"field": "y", "type": "quantitative"}, "order": {"field": "o", "type": "quantitative"}}},
  {"data": {"values": [{"x": 0.47, "y": 60, "t": "OIA"}, {"x": 1.44, "y": 31.7, "t": "CIA"}, {"x": 3.07, "y": 37.2, "t": "ACM"}, {"x": 5.79, "y": 11.5, "t": "PM"}]},
   "mark": {"type": "text", "fontWeight": "bold", "fontSize": 14, "color": "#2e2b7a"},
   "encoding": {"x": {"field": "x", "type": "quantitative"}, "y": {"field": "y", "type": "quantitative"}, "text": {"field": "t"}}},
  {"data": {"values": [
    {"x": 2.48, "y": 30.1, "s": "n"}, {"x": 2.53, "y": 27.3, "s": "n"}, {"x": 2.37, "y": 24.5, "s": "n"}, {"x": 2.58, "y": 24.5, "s": "n"}, {"x": 2.42, "y": 21.6, "s": "n"}, {"x": 2.64, "y": 21.6, "s": "n"}, {"x": 2.31, "y": 18.8, "s": "n"}, {"x": 2.53, "y": 18.8, "s": "n"}, {"x": 2.48, "y": 16, "s": "n"}, {"x": 2.64, "y": 16.9, "s": "n"}, {"x": 2.42, "y": 14.3, "s": "n"}, {"x": 2.5, "y": 20, "s": "n"}, {"x": 2.45, "y": 26, "s": "n"},
    {"x": 2.58, "y": 31.7, "s": "r"}, {"x": 2.42, "y": 28, "s": "r"}, {"x": 2.6, "y": 23, "s": "r"}, {"x": 2.75, "y": 20.7, "s": "r"}, {"x": 2.35, "y": 22, "s": "r"}, {"x": 2.55, "y": 25.5, "s": "r"}, {"x": 2.7, "y": 22.5, "s": "r"},
    {"x": 2.8, "y": 12.5, "s": "k"}, {"x": 2.96, "y": 14.3, "s": "k"}]},
   "mark": {"type": "circle", "size": 18, "opacity": 1},
   "encoding": {"x": {"field": "x", "type": "quantitative"}, "y": {"field": "y", "type": "quantitative"}, "color": {"field": "s", "type": "nominal", "scale": {"domain": ["n", "r", "k"], "range": ["#2c2a80", "#c0412b", "#111111"]}, "legend": null}}},
  {"data": {"values": [{"x": -1.01, "y": -20.5, "t": "G"}]},
   "mark": {"type": "text", "font": "Liberation Sans", "fontWeight": "bold", "fontSize": 18, "color": "#111111", "align": "left"},
   "encoding": {"x": {"field": "x", "type": "quantitative"}, "y": {"field": "y", "type": "quantitative"}, "text": {"field": "t"}}}
 ]}
]},
{"spacing": 5.5, "hconcat": [
{"width": 276, "height": 280, "view": {"stroke": "#4b4590", "strokeWidth": 2.5},
 "layer": [
  {"data": {"values": [{"x": 0, "x2": 1.2, "y": 0, "y2": 8}]},
   "mark": {"type": "rect", "fill": null, "stroke": "#3d3a8c", "strokeWidth": 3},
   "encoding": {
     "x": {"field": "x", "type": "quantitative", "scale": {"domain": [-0.1326, 1.2592], "nice": false, "zero": false}, "axis": {"offset": -38.7, "values": [0, 0.2, 0.4, 0.6, 0.8, 1, 1.2], "format": "~r", "labelFontSize": 7, "labelColor": "#c03060", "tickSize": 3, "labelPadding": 3, "title": "Ta/Hf", "titleFontSize": 12, "titlePadding": 10}},
     "x2": {"field": "x2"},
     "y": {"field": "y", "type": "quantitative", "scale": {"domain": [-1.382, 8.618], "nice": false, "zero": false}, "axis": {"offset": -26.3, "values": [0, 2, 4, 6, 8], "format": "~r", "labelFontSize": 7, "labelColor": "#c03060", "tickSize": 3, "labelPadding": 1, "title": "Th/Hf", "titleFontSize": 11, "titlePadding": 2}},
     "y2": {"field": "y2"}}},
  {"data": {"values": [{"x": 0, "y": 0, "x2": 1.2, "y2": 5.85}]},
   "mark": {"type": "rule", "color": "#d0306a", "strokeWidth": 2.5},
   "encoding": {"x": {"field": "x", "type": "quantitative"}, "y": {"field": "y", "type": "quantitative"}, "x2": {"field": "x2"}, "y2": {"field": "y2"}}},
  {"data": {"values": [{"x": 0.07, "y": 5.77, "t": "Active Contintal Margins"}]},
   "mark": {"type": "text", "fontWeight": "bold", "fontSize": 8.5, "color": "#2e2b7a", "align": "left"},
   "encoding": {"x": {"field": "x", "type": "quantitative"}, "y": {"field": "y", "type": "quantitative"}, "text": {"field": "t"}}},
  {"data": {"values": [{"x": 0.87, "y": 1.85, "t": "Within Plate Volcaic Zones"}]},
   "mark": {"type": "text", "fontWeight": "bold", "fontSize": 7.5, "color": "#2e2b7a"},
   "encoding": {"x": {"field": "x", "type": "quantitative"}, "y": {"field": "y", "type": "quantitative"}, "text": {"field": "t"}}},
  {"data": {"values": [
    {"x": 0.247, "y": 2.57, "s": "n"}, {"x": 0.264, "y": 2.69, "s": "n"}, {"x": 0.298, "y": 2.51, "s": "n"}, {"x": 0.315, "y": 2.63, "s": "n"}, {"x": 0.331, "y": 2.39, "s": "n"}, {"x": 0.348, "y": 2.45, "s": "n"}, {"x": 0.289, "y": 2.27, "s": "n"}, {"x": 0.256, "y": 2.33, "s": "n"}, {"x": 0.23, "y": 2.45, "s": "n"}, {"x": 0.323, "y": 2.27, "s": "n"},
    {"x": 0.23, "y": 1.73, "s": "n"}, {"x": 0.247, "y": 1.79, "s": "n"}, {"x": 0.264, "y": 1.67, "s": "n"}, {"x": 0.239, "y": 1.49, "s": "n"}, {"x": 0.256, "y": 1.37, "s": "n"}, {"x": 0.222, "y": 1.25, "s": "n"}, {"x": 0.281, "y": 1.61, "s": "n"},
    {"x": 0.281, "y": 2.75, "s": "r"}, {"x": 0.365, "y": 2.81, "s": "r"}, {"x": 0.39, "y": 2.93, "s": "r"}, {"x": 0.382, "y": 2.69, "s": "r"}, {"x": 0.272, "y": 2.99, "s": "r"}, {"x": 0.356, "y": 2.27, "s": "r"}, {"x": 0.24, "y": 2.6, "s": "r"}, {"x": 0.3, "y": 2.8, "s": "r"},
    {"x": 0.264, "y": 1.13, "s": "r"}, {"x": 0.247, "y": 1.25, "s": "r"}, {"x": 0.27, "y": 1.3, "s": "r"}]},
   "mark": {"type": "circle", "size": 16, "opacity": 1},
   "encoding": {"x": {"field": "x", "type": "quantitative"}, "y": {"field": "y", "type": "quantitative"}, "color": {"field": "s", "type": "nominal", "scale": {"domain": ["n", "r", "k"], "range": ["#2c2a80", "#c0412b", "#111111"]}, "legend": null}}},
  {"data": {"values": [{"x": -0.1175, "y": -0.95, "t": "H"}]},
   "mark": {"type": "text", "font": "Liberation Sans", "fontWeight": "bold", "fontSize": 18, "color": "#111111", "align": "left"},
   "encoding": {"x": {"field": "x", "type": "quantitative"}, "y": {"field": "y", "type": "quantitative"}, "text": {"field": "t"}}}
 ]},
{"width": 293, "height": 280, "view": {"stroke": "#4b4590", "strokeWidth": 2.5},
 "layer": [
  {"data": {"values": [{"x": 0, "x2": 12, "y": 0, "y2": 30}]},
   "mark": {"type": "rect", "fill": null, "stroke": "#4a44a0", "strokeWidth": 2.5},
   "encoding": {
     "x": {"field": "x", "type": "quantitative", "scale": {"domain": [-2.301, 12.92], "nice": false, "zero": false}, "axis": {"offset": -47.7, "values": [0, 3, 6, 9, 12], "format": "~r", "labelFontSize": 16, "labelFontWeight": "normal", "labelColor": "#3a3a7a", "tickSize": 3, "labelPadding": 2, "title": "Yb", "titleFontStyle": "italic", "titleFontSize": 26, "titlePadding": 0}},
     "x2": {"field": "x2"},
     "y": {"field": "y", "type": "quantitative", "scale": {"domain": [-6.68, 32.53], "nice": false, "zero": false}, "axis": {"offset": -44.3, "values": [0, 5, 10, 15, 20, 25, 30], "format": "~r", "labelFontSize": 16, "labelFontWeight": "normal", "labelColor": "#3a3a7a", "tickSize": 3, "labelPadding": 1, "title": "Th/Ta", "titleFontStyle": "italic", "titleFontSize": 26, "titlePadding": 0}},
     "y2": {"field": "y2"}}},
  {"data": {"values": [{"x": 0, "y": 22, "x2": 12, "y2": 22}, {"x": 0, "y": 5, "x2": 12, "y2": 5}, {"x": 0, "y": 2, "x2": 12, "y2": 2}]},
   "mark": {"type": "rule", "color": "#c040a0", "strokeWidth": 2},
   "encoding": {"x": {"field": "x", "type": "quantitative"}, "y": {"field": "y", "type": "quantitative"}, "x2": {"field": "x2"}, "y2": {"field": "y2"}}},
  {"data": {"values": [{"x": 6.03, "y": 25.8, "t": "Oceanic Arcs"}, {"x": 6.29, "y": 15.3, "t": "Active Contintal Margins"}, {"x": 6.63, "y": 3.64, "t": "Within Plate Volcaic Zones"}, {"x": 6.03, "y": 0.6, "t": "Morb"}]},
   "mark": {"type": "text", "fontWeight": "bold", "fontSize": 8, "color": "#2e2b7a"},
   "encoding": {"x": {"field": "x", "type": "quantitative"}, "y": {"field": "y", "type": "quantitative"}, "text": {"field": "t"}}},
  {"data": {"values": [
    {"x": 0.14, "y": 6.9, "s": "n"}, {"x": 0.31, "y": 7.6, "s": "n"}, {"x": 0.49, "y": 8.1, "s": "n"}, {"x": 0.66, "y": 8.8, "s": "n"}, {"x": 0.83, "y": 8.3, "s": "n"}, {"x": 1.01, "y": 9.3, "s": "n"}, {"x": 0.92, "y": 10.4, "s": "n"}, {"x": 1.18, "y": 8.5, "s": "n"}, {"x": 1.44, "y": 9.7, "s": "n"}, {"x": 1.61, "y": 10.2, "s": "n"}, {"x": 1.79, "y": 9.3, "s": "n"}, {"x": 2.05, "y": 10.0, "s": "n"}, {"x": 1.01, "y": 8.1, "s": "n"}, {"x": 1.35, "y": 9.3, "s": "n"}, {"x": 0.23, "y": 6.2, "s": "n"},
    {"x": 1.53, "y": 8.1, "s": "r"}, {"x": 1.7, "y": 7.8, "s": "r"}, {"x": 0.66, "y": 5.5, "s": "r"}, {"x": 0.75, "y": 4.3, "s": "r"}, {"x": 0.49, "y": 6.0, "s": "r"}, {"x": 0.4, "y": 7.1, "s": "r"}, {"x": 0.58, "y": 6.6, "s": "r"}, {"x": 1.62, "y": 8.6, "s": "r"}, {"x": 0.3, "y": 5.8, "s": "r"}]},
   "mark": {"type": "circle", "size": 16, "opacity": 1},
   "encoding": {"x": {"field": "x", "type": "quantitative"}, "y": {"field": "y", "type": "quantitative"}, "color": {"field": "s", "type": "nominal", "scale": {"domain": ["n", "r", "k"], "range": ["#2c2a80", "#c0412b", "#111111"]}, "legend": null}}},
  {"data": {"values": [{"x": -1.886, "y": -5.0, "t": "I"}]},
   "mark": {"type": "text", "font": "Liberation Sans", "fontWeight": "bold", "fontSize": 18, "color": "#111111", "align": "left"},
   "encoding": {"x": {"field": "x", "type": "quantitative"}, "y": {"field": "y", "type": "quantitative"}, "text": {"field": "t"}}}
 ]}
]}
]}
]
}
